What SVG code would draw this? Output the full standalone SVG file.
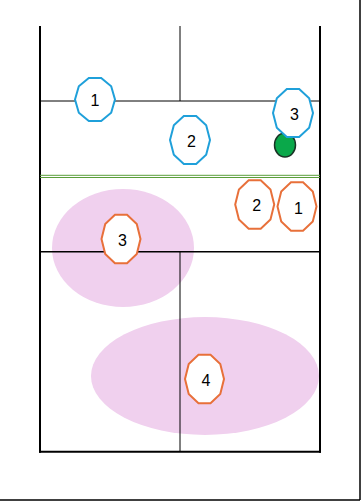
<svg xmlns="http://www.w3.org/2000/svg" width="361" height="501" viewBox="0 0 361 501">
<style>
.zone{fill:#f0d0ee;stroke:none}
.line{stroke:#000;fill:none}
.thick{stroke-width:2}
.thin{stroke-width:1}
.blue{fill:#fff;stroke:#1fa0da;stroke-width:2}
.orange{fill:#fff;stroke:#e8703a;stroke-width:2}
.lbl{font-family:"Liberation Sans",Arial,sans-serif;font-size:16px;fill:#000;text-anchor:middle;dominant-baseline:central}
</style>
<defs>
<polygon id="deca" points="20,0 16.18,14.82 6.18,23.97 -6.18,23.97 -16.18,14.82 -20,0 -16.18,-14.82 -6.18,-23.97 6.18,-23.97 16.18,-14.82"/>
<polygon id="decaS" points="20,0 16.18,13.29 6.18,21.49 -6.18,21.49 -16.18,13.29 -20,0 -16.18,-13.29 -6.18,-21.49 6.18,-21.49 16.18,-13.29"/>
<polygon id="decaO" points="19.5,0 15.78,15 6.03,24.25 -6.03,24.25 -15.78,15 -19.5,0 -15.78,-15 -6.03,-24.25 6.03,-24.25 15.78,-15"/>
</defs>
<rect width="361" height="501" fill="#fff"/>
<g id="zones">
<ellipse class="zone" cx="123" cy="248" rx="71" ry="59"/>
<ellipse class="zone" cx="205" cy="376" rx="114" ry="59"/>
</g>
<g id="court">
<line class="line" x1="360" y1="0" x2="360" y2="500" stroke-width="1.5"/>
<line class="line" x1="0" y1="500" x2="360" y2="500" stroke-width="1.5"/>
<line class="line thick" x1="40" y1="26" x2="40" y2="452.7"/>
<line class="line thick" x1="320" y1="26" x2="320" y2="452.7"/>
<line class="line thick" x1="39" y1="451.7" x2="321" y2="451.7"/>
<line class="line thin" x1="180" y1="26" x2="180" y2="101"/>
<line class="line thin" x1="40" y1="101" x2="320" y2="101"/>
<line x1="40" y1="175.3" x2="320" y2="175.3" stroke="#5a9e3a" stroke-width="1"/>
<line x1="40" y1="177.5" x2="320" y2="177.5" stroke="#5a9e3a" stroke-width="1"/>
<line class="line" x1="40" y1="251.7" x2="320" y2="251.7" stroke-width="1.5"/>
<line class="line thin" x1="180" y1="251.7" x2="180" y2="452"/>
</g>
<g id="ball">
<ellipse cx="285" cy="145" rx="10.5" ry="12" fill="#0aa84a" stroke="#1a3326" stroke-width="1.5"/>
</g>
<g id="blue1" transform="translate(95,99.5)"><use href="#decaS" class="blue"/><text class="lbl" x="0" y="1">1</text></g>
<g id="blue2" transform="translate(190,140)"><use href="#deca" class="blue"/><text class="lbl" x="1.5" y="1">2</text></g>
<g id="blue3" transform="translate(293,113)"><use href="#deca" class="blue"/><text class="lbl" x="1.5" y="1.5">3</text></g>
<g id="orange2" transform="translate(254.7,204.5)"><use href="#decaO" class="orange"/><text class="lbl" x="2" y="1">2</text></g>
<g id="orange1" transform="translate(297,206.5)"><use href="#decaO" class="orange"/><text class="lbl" x="1.5" y="1.5">1</text></g>
<g id="orange3" transform="translate(121,239)"><use href="#decaO" class="orange"/><text class="lbl" x="1.5" y="1">3</text></g>
<g id="orange4" transform="translate(204.5,379)"><use href="#decaO" class="orange"/><text class="lbl" x="1.5" y="1">4</text></g>
</svg>
